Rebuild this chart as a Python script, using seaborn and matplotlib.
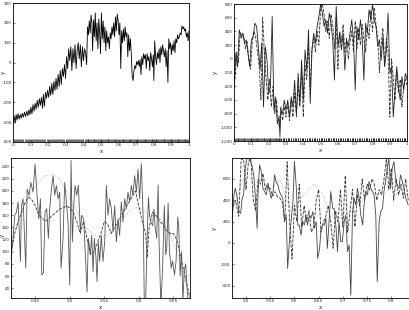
import numpy as np
import pandas as pd
import matplotlib
matplotlib.use("Agg")
import matplotlib.pyplot as plt
import seaborn as sns

# ---------------- Panel 1 (top-left) ----------------
tl_x = [0.000, 0.006, 0.011, 0.017, 0.022, 0.028, 0.034, 0.040, 0.046, 0.052,
        0.058, 0.065, 0.071, 0.078, 0.084, 0.090, 0.096, 0.101, 0.107, 0.113,
        0.119, 0.125, 0.131, 0.137, 0.143, 0.149, 0.155, 0.161, 0.167, 0.172,
        0.178, 0.184, 0.190, 0.196, 0.202, 0.208, 0.214, 0.220, 0.226, 0.232,
        0.238, 0.244, 0.250, 0.256, 0.262, 0.268, 0.274, 0.280, 0.286, 0.292,
        0.298, 0.304, 0.310, 0.316, 0.322, 0.328, 0.334, 0.340, 0.346, 0.352,
        0.358, 0.364, 0.370, 0.376, 0.382, 0.388, 0.394, 0.400, 0.406, 0.412,
        0.418, 0.423, 0.428, 0.433, 0.438, 0.443, 0.448, 0.452, 0.457, 0.462,
        0.467, 0.472, 0.477, 0.482, 0.487, 0.492, 0.497, 0.502, 0.507, 0.512,
        0.517, 0.522, 0.527, 0.532, 0.537, 0.542, 0.547, 0.552, 0.557, 0.562,
        0.567, 0.572, 0.577, 0.582, 0.587, 0.592, 0.597, 0.602, 0.607, 0.612,
        0.617, 0.622, 0.627, 0.632, 0.637, 0.642, 0.647, 0.652, 0.657, 0.662,
        0.667, 0.672, 0.677, 0.682, 0.687, 0.692, 0.697, 0.702, 0.707, 0.712,
        0.717, 0.722, 0.727, 0.732, 0.737, 0.742, 0.747, 0.752, 0.757, 0.762,
        0.767, 0.772, 0.777, 0.782, 0.787, 0.792, 0.797, 0.800, 0.805, 0.810,
        0.815, 0.820, 0.825, 0.830, 0.835, 0.840, 0.845, 0.850, 0.855, 0.860,
        0.865, 0.870, 0.875, 0.880, 0.885, 0.890, 0.895, 0.900, 0.905, 0.910,
        0.915, 0.920, 0.925, 0.930, 0.935, 0.940, 0.945, 0.950, 0.955, 0.960,
        0.965, 0.970, 0.975, 0.980, 0.985, 0.990, 0.995, 1.000]
tl_y = [-300, -270, -305, -262, -290, -258, -285, -262, -280, -255,
        -275, -250, -272, -245, -268, -238, -262, -225, -258, -212,
        -245, -205, -235, -190, -225, -182, -215, -175, -230, -160,
        -220, -150, -180, -140, -175, -120, -165, -105, -160, -95,
        -140, -80, -135, -60, -120, -40, -110, -30, -70, -10,
        -80, 30, -30, 70, 10, 80, -40, 70, 0, 90,
        -30, 60, 100, 20, 90, -20, 80, 10, 70, 50,
        -10, 180, 140, 210, 150, 240, 200, 60, 215, 130,
        250, 110, 200, 70, 220, 150, 45, 250, 120, 210,
        100, 180, 60, 160, 100, 130, 70, 150, 120, 180,
        140, 200, 130, 230, 160, 245, 210, 140, 200, -30,
        160, 100, 170, 110, 180, 130, 150, 30, 140, 60,
        120, 40, -70, -90, -40, -15, -30, 5, -10, 10,
        -20, 15, -60, 30, -10, 45, 20, 40, -30, 45,
        10, 30, -40, 50, 20, -20, 40, -90, 110, 30,
        -10, 50, 20, 70, 0, 80, 40, 90, 60, 30,
        70, -20, 60, -100, 120, 70, 100, 40, 90, 60,
        110, 50, 120, 100, 140, 120, 130, 150, 140, 185,
        170, 180, 160, 170, 130, 150, 110, 160]

# ---------------- Panel 2 (top-right) ----------------
tr_x = [0.00, 0.01, 0.02, 0.03, 0.04, 0.05, 0.06, 0.07, 0.08, 0.09,
        0.10, 0.11, 0.12, 0.13, 0.14, 0.15, 0.16, 0.17, 0.18, 0.19,
        0.20, 0.21, 0.22, 0.23, 0.24, 0.25, 0.26, 0.265, 0.27, 0.28,
        0.29, 0.30, 0.31, 0.32, 0.33, 0.34, 0.35, 0.36, 0.37, 0.38,
        0.39, 0.40, 0.41, 0.42, 0.43, 0.44, 0.45, 0.46, 0.47, 0.48,
        0.49, 0.50, 0.51, 0.52, 0.53, 0.54, 0.55, 0.56, 0.57, 0.58,
        0.59, 0.60, 0.61, 0.62, 0.63, 0.64, 0.65, 0.66, 0.67, 0.68,
        0.69, 0.70, 0.71, 0.72, 0.73, 0.74, 0.75, 0.76, 0.77, 0.78,
        0.79, 0.80, 0.81, 0.82, 0.83, 0.84, 0.85, 0.86, 0.87, 0.88,
        0.89, 0.90, 0.91, 0.92, 0.93, 0.94, 0.95, 0.96, 0.97, 0.98,
        0.99, 1.00]
tr_solid = [-408, 81, -114, 423, 326, 375, 228, 277, 81, -114,
            277, 326, 521, 472, 179, -163, 228, -701, 179, -17,
            -505, -408, 619, -750, -554, -946, -848, -1141, -750, -799,
            -603, -750, -603, -848, -554, -701, -310, -848, -212, -652,
            -17, -603, 130, -163, 423, -652, 130, 375, 228, 472,
            619, 800, 668, 472, 570, 375, 668, 521, 277, -310,
            766, 179, 375, 130, 375, -163, 277, 179, 375, 570,
            277, -457, 472, 277, 570, 326, -310, 521, 375, 717,
            570, 800, 570, 472, 179, 277, -17, 326, -114, 130,
            668, -212, -114, -848, -457, -114, -408, -603, -261, -457,
            -212, -310]
tr_dash_x = [0.005, 0.015, 0.025, 0.035, 0.045, 0.055, 0.065, 0.075, 0.085, 0.095,
             0.105, 0.115, 0.125, 0.135, 0.145, 0.155, 0.165, 0.175, 0.185, 0.195,
             0.205, 0.215, 0.225, 0.235, 0.245, 0.255, 0.262, 0.27, 0.28, 0.29,
             0.30, 0.31, 0.32, 0.33, 0.34, 0.35, 0.36, 0.37, 0.38, 0.39,
             0.40, 0.41, 0.42, 0.43, 0.44, 0.45, 0.46, 0.47, 0.48, 0.49,
             0.50, 0.51, 0.52, 0.53, 0.54, 0.55, 0.56, 0.57, 0.58, 0.59,
             0.60, 0.61, 0.62, 0.63, 0.64, 0.65, 0.66, 0.67, 0.68, 0.69,
             0.70, 0.71, 0.72, 0.73, 0.74, 0.75, 0.76, 0.77, 0.78, 0.79,
             0.80, 0.81, 0.82, 0.83, 0.84, 0.85, 0.86, 0.87, 0.88, 0.89,
             0.90, 0.91, 0.92, 0.93, 0.94, 0.95, 0.96, 0.97, 0.98, 0.99, 1.00]
tr_dash = [-300, 100, -50, 380, 300, 350, 150, 250, 0, -150,
           250, 400, 300, 100, -100, -600, 600, 100, -300, -600,
           -300, -700, -400, -800, -600, -900, -1000, -700, -900, -700,
           -850, -650, -900, -600, -850, -500, -800, -400, -700, -200,
           -850, -100, -300, 200, -400, 150, 300, 100, 400, 200,
           750, 800, 650, 400, 550, 300, 650, 500, 150, 600,
           -150, 400, 250, 500, 100, 300, 0, 250, 400, 100,
           550, 150, 450, 200, 500, 300, 100, 450, 300, 700,
           400, 750, 500, 300, -200, 200, 450, -100, 300, 100,
           -850, 0, -300, -600, -200, -500, -300, -700, -400, -300, -400]
tr_dot_x = [0.01, 0.03, 0.05, 0.07, 0.09, 0.11, 0.13, 0.15, 0.17, 0.19,
            0.21, 0.23, 0.25, 0.27, 0.29, 0.31, 0.33, 0.35, 0.37, 0.39,
            0.41, 0.43, 0.45, 0.47, 0.49, 0.51, 0.53, 0.55, 0.57, 0.59,
            0.61, 0.63, 0.65, 0.67, 0.69, 0.71, 0.73, 0.75, 0.77, 0.79,
            0.81, 0.83, 0.85, 0.87, 0.89, 0.91, 0.93, 0.95, 0.97, 0.99]
tr_dot = [-200, 300, 350, 200, 100, 350, 350, 0, 200, -400,
          -500, -600, -900, -800, -800, -700, -750, -550, -500, -400,
          -200, 0, 100, 300, 400, 700, 550, 500, 450, 300,
          300, 250, 200, 300, 350, 300, 350, 400, 350, 500,
          600, 400, 300, 200, 0, -100, -300, -400, -500, -400]

# ---------------- Panel 3 (bottom-left) ----------------
bl_x = [0.4147, 0.4176, 0.4200, 0.4225, 0.4249, 0.4283, 0.4297, 0.4321, 0.4360, 0.4380,
        0.4408, 0.4433, 0.4466, 0.4495, 0.4524, 0.4549, 0.4573, 0.4592, 0.4616, 0.4640,
        0.4664, 0.4688, 0.4708, 0.4732, 0.4756, 0.4780, 0.4804, 0.4829, 0.4853, 0.4872,
        0.4901, 0.4925, 0.4949, 0.4973, 0.4998, 0.5017, 0.5036, 0.5056, 0.5075, 0.5099,
        0.5123, 0.5152, 0.5171, 0.5200, 0.5229, 0.5249, 0.5268, 0.5297, 0.5316, 0.5336,
        0.5355, 0.5379, 0.5394, 0.5413, 0.5432, 0.5456, 0.5480, 0.5505, 0.5529, 0.5553,
        0.5577, 0.5601, 0.5626, 0.5650, 0.5674, 0.5698, 0.5722, 0.5746, 0.5770, 0.5795,
        0.5819, 0.5843, 0.5867, 0.5891, 0.5915, 0.5940, 0.5964, 0.5988, 0.6012, 0.6036,
        0.6050, 0.6065, 0.6080, 0.6100, 0.6120, 0.6140, 0.6155, 0.6175, 0.6200, 0.6220,
        0.6237, 0.6260, 0.6280, 0.6295, 0.6320, 0.6345, 0.6370, 0.6390, 0.6405, 0.6425,
        0.6445, 0.6470, 0.6490, 0.6517, 0.6540, 0.6565, 0.6580, 0.6600, 0.6620, 0.6640,
        0.6660, 0.6680, 0.6700, 0.6720]
bl_solid = [89, 122, 160, 165, 182, 84, 176, 187, 73, 203,
            193, 214, 198, 244, 193, 154, 187, 62, 65, 165,
            171, 122, 171, 203, 225, 193, 209, 187, 198, 73,
            122, 214, 182, 149, 45, 250, 116, 176, 209, 193,
            209, 133, 160, 154, 84, 34, 122, 95, 127, 67,
            122, 89, 51, 116, 84, 127, 84, 116, 209, 160,
            187, 171, 133, 176, 116, 154, 127, 182, 149, 187,
            171, 198, 182, 209, 193, 225, 198, 236, 187, 245,
            200, 150, 10, 20, 120, 190, 160, 149, 143, 170,
            140, 122, 210, 110, 10, 73, 176, 95, 105, 180,
            100, 73, 85, 62, 84, 157, 140, 60, 100, 20,
            70, 80, 40, 10]
bl_dash_x = [0.4147, 0.4200, 0.4250, 0.4300, 0.4350, 0.4400, 0.4450, 0.4500, 0.4550, 0.4600,
             0.4650, 0.4700, 0.4750, 0.4800, 0.4850, 0.4900, 0.4950, 0.5000, 0.5050, 0.5100,
             0.5150, 0.5200, 0.5250, 0.5300, 0.5350, 0.5400, 0.5450, 0.5500, 0.5550, 0.5600,
             0.5650, 0.5700, 0.5750, 0.5800, 0.5850, 0.5900, 0.5950, 0.6000, 0.6050, 0.6100,
             0.6120, 0.6150, 0.6200, 0.6250, 0.6300, 0.6350, 0.6400, 0.6450, 0.6500, 0.6550,
             0.6600, 0.6650, 0.6700, 0.6740]
bl_dash = [100, 130, 150, 165, 180, 190, 185, 175, 160, 155,
           150, 155, 160, 165, 170, 172, 175, 172, 165, 150,
           130, 150, 120, 95, 100, 115, 130, 150, 145, 130,
           140, 150, 160, 170, 180, 190, 200, 175, 150, 130,
           90, 140, 165, 160, 150, 145, 135, 130, 130, 120,
           95, 70, 45, 25]
bl_dot_x = [0.4147, 0.4250, 0.4350, 0.4450, 0.4550, 0.4650, 0.4750, 0.4850, 0.4950, 0.5050,
            0.5150, 0.5250, 0.5350, 0.5450, 0.5550, 0.5650, 0.5750, 0.5850, 0.5950, 0.6050,
            0.6150, 0.6250, 0.6350, 0.6450, 0.6550, 0.6650, 0.6740]
bl_dot = [120, 150, 180, 200, 215, 225, 228, 220, 200, 178,
          155, 138, 128, 124, 128, 138, 152, 165, 173, 170,
          160, 160, 150, 130, 100, 60, 22]

# ---------------- Panel 4 (bottom-right) ----------------
br_x = [0.471, 0.475, 0.478, 0.482, 0.485, 0.489, 0.492, 0.495, 0.4986, 0.502,
        0.5055, 0.509, 0.512, 0.516, 0.519, 0.523, 0.5247, 0.528, 0.5315, 0.535,
        0.5384, 0.542, 0.545, 0.549, 0.552, 0.556, 0.559, 0.562, 0.5658, 0.569,
        0.5726, 0.576, 0.5795, 0.583, 0.586, 0.590, 0.593, 0.597, 0.600, 0.604,
        0.607, 0.610, 0.6137, 0.617, 0.6205, 0.624, 0.627, 0.631, 0.634, 0.638,
        0.641, 0.645, 0.648, 0.652, 0.655, 0.658, 0.6616, 0.665, 0.668, 0.672,
        0.675, 0.679, 0.682, 0.686, 0.689, 0.692, 0.6959, 0.699, 0.7027, 0.706,
        0.7096, 0.713, 0.7164, 0.720, 0.7233, 0.727, 0.730, 0.734, 0.737, 0.741,
        0.7438, 0.747, 0.7507, 0.754, 0.7575, 0.761, 0.7644, 0.768, 0.771, 0.775,
        0.778, 0.782, 0.7849, 0.788, 0.7918, 0.795, 0.7986, 0.802, 0.8055, 0.809,
        0.812, 0.816, 0.819, 0.823, 0.826, 0.830, 0.835]
br_solid = [199, 450, 512, 418, 293, 277, 418, 450, 700, 794,
            794, 763, 732, 638, 450, 136, 450, 732, 669, 512,
            481, 450, 544, 481, 418, 481, 638, 575, 544, 481,
            450, 418, 199, 261, -240, 42, 199, 387, 763, 512,
            167, 167, 73, 199, 167, 261, 167, 261, 230, 293,
            136, 199, -146, -52, 136, 167, 167, 230, -52, 230,
            481, 324, 324, 136, -83, 199, 11, 11, 199, 261,
            -83, -21, -491, 293, 418, 355, 512, 418, 261, 167,
            355, 481, 450, 575, 512, 481, 450, 261, -365, 199,
            293, 324, 481, 575, 700, 794, 512, 700, 763, 606,
            544, 512, 638, 575, 512, 418, 355]
br_dash_x = [0.471, 0.478, 0.485, 0.490, 0.495, 0.500, 0.505, 0.510, 0.515, 0.520,
             0.525, 0.530, 0.535, 0.540, 0.545, 0.550, 0.555, 0.560, 0.565, 0.570,
             0.575, 0.580, 0.585, 0.590, 0.595, 0.600, 0.605, 0.610, 0.615, 0.620,
             0.625, 0.630, 0.635, 0.640, 0.645, 0.650, 0.655, 0.660, 0.665, 0.670,
             0.675, 0.680, 0.685, 0.690, 0.695, 0.700, 0.705, 0.710, 0.715, 0.720,
             0.725, 0.730, 0.735, 0.740, 0.745, 0.750, 0.755, 0.760, 0.765, 0.770,
             0.775, 0.780, 0.785, 0.790, 0.795, 0.800, 0.805, 0.810, 0.815, 0.820,
             0.825, 0.830, 0.835]
br_dash = [300, 400, 250, 780, 790, 500, 760, 790, 400, 300,
           600, 550, 650, 500, 560, 500, 440, 480, 430, 420,
           380, 200, 760, 200, -150, 350, 200, 550, 150, 350,
           200, 300, 100, 150, 400, 500, 100, 200, 250, 350,
           200, -50, 300, 200, 500, 150, 630, 100, 300, 500,
           150, 450, 350, 600, 400, 550, 500, 600, 550, 400,
           500, 450, 600, 790, 500, 700, 400, 600, 450, 550,
           420, 600, 400]
br_dot_x = [0.471, 0.480, 0.490, 0.500, 0.510, 0.520, 0.530, 0.540, 0.550, 0.560,
            0.570, 0.580, 0.590, 0.600, 0.610, 0.620, 0.630, 0.640, 0.650, 0.660,
            0.670, 0.680, 0.690, 0.700, 0.710, 0.720, 0.730, 0.740, 0.750, 0.760,
            0.770, 0.780, 0.790, 0.800, 0.810, 0.820, 0.830, 0.835]
br_dot = [350, 400, 550, 650, 600, 500, 600, 550, 500, 550,
          600, 450, 350, 300, 400, 450, 500, 550, 500, 450,
          300, 250, 200, 250, 350, 400, 350, 400, 450, 500,
          450, 500, 550, 500, 450, 500, 450, 450]

# tick labels / ranges
tl_yticks = [-400, -300, -200, -100, 0, 100, 200, 300]
tr_yticks = [-1200, -1000, -800, -600, -400, -200, 0, 200, 400, 600, 800]
bl_yticks = [40, 60, 80, 100, 120, 140, 160, 180, 200, 220, 240]
br_yticks = [-400, -200, 0, 200, 400, 600]
top_xticks = [0, 0.1, 0.2, 0.3, 0.4, 0.5, 0.6, 0.7, 0.8, 0.9, 1]
bl_xticks = [0.45, 0.5, 0.55, 0.6, 0.65]
br_xticks = [0.5, 0.55, 0.6, 0.65, 0.7, 0.75, 0.8]

sns.set_style("ticks")
plt.rcParams['font.family'] = ['DejaVu Sans']

fig = plt.figure(figsize=(4.1, 3.1), dpi=100)
ax1 = fig.add_axes([0.032, 0.542, 0.429, 0.448])
ax2 = fig.add_axes([0.571, 0.545, 0.422, 0.442])
ax3 = fig.add_axes([0.027, 0.039, 0.436, 0.451])
ax4 = fig.add_axes([0.566, 0.039, 0.432, 0.451])

lw = 0.6
# Panel 1
sns.lineplot(x=tl_x, y=tl_y, ax=ax1, color="black", linewidth=lw, estimator=None, sort=False)
sns.rugplot(x=tl_x, ax=ax1, color="black", height=0.02, linewidth=0.4)
ax1.set_xlim(0, 1); ax1.set_ylim(-400, 300)
ax1.set_xticks(top_xticks); ax1.set_yticks(tl_yticks)

# Panel 2
sns.lineplot(x=tr_dot_x, y=tr_dot, ax=ax2, color="#aaaaaa", linewidth=lw, linestyle=":", estimator=None, sort=False)
sns.lineplot(x=tr_dash_x, y=tr_dash, ax=ax2, color="#333333", linewidth=lw, linestyle="--", estimator=None, sort=False)
sns.lineplot(x=tr_x, y=tr_solid, ax=ax2, color="#222222", linewidth=lw, estimator=None, sort=False)
sns.rugplot(x=tr_x + tr_dash_x, ax=ax2, color="black", height=0.02, linewidth=0.4)
ax2.set_xlim(0, 1); ax2.set_ylim(-1200, 800)
ax2.set_xticks(top_xticks); ax2.set_yticks(tr_yticks)

# Panel 3
sns.lineplot(x=bl_dot_x, y=bl_dot, ax=ax3, color="#aaaaaa", linewidth=lw, linestyle=":", estimator=None, sort=False)
sns.lineplot(x=bl_dash_x, y=bl_dash, ax=ax3, color="#333333", linewidth=lw, linestyle="--", estimator=None, sort=False)
sns.lineplot(x=bl_x, y=bl_solid, ax=ax3, color="#555555", linewidth=lw, estimator=None, sort=False)
ax3.set_xlim(0.4147, 0.674); ax3.set_ylim(24, 254)
ax3.set_xticks(bl_xticks); ax3.set_yticks(bl_yticks)

# Panel 4
sns.lineplot(x=br_dot_x, y=br_dot, ax=ax4, color="#aaaaaa", linewidth=lw, linestyle=":", estimator=None, sort=False)
sns.lineplot(x=br_dash_x, y=br_dash, ax=ax4, color="#333333", linewidth=lw, linestyle="--", estimator=None, sort=False)
sns.lineplot(x=br_x, y=br_solid, ax=ax4, color="#444444", linewidth=lw, estimator=None, sort=False)
ax4.set_xlim(0.4712, 0.837); ax4.set_ylim(-516, 795)
ax4.set_xticks(br_xticks); ax4.set_yticks(br_yticks)

label_pos = {ax1: (-0.04, 0.5), ax2: (-0.095, 0.5), ax3: (-0.035, 0.45), ax4: (-0.085, 0.5)}
for ax in (ax1, ax2, ax3, ax4):
    for s in ax.spines.values():
        s.set_visible(True)
        s.set_linewidth(0.6)
        s.set_color("black")
    ax.tick_params(labelsize=3, length=1.5, width=0.4, pad=1, direction="in")
    ax.set_xticklabels([f"{t:g}" for t in ax.get_xticks()])
    ax.set_yticklabels([f"{t:g}" for t in ax.get_yticks()])
    ax.set_xlabel("x", fontsize=4, labelpad=1)
    ax.set_ylabel("y", fontsize=4, labelpad=1)
    ax.yaxis.set_label_coords(*label_pos[ax])

fig.savefig("out.png", dpi=100)
